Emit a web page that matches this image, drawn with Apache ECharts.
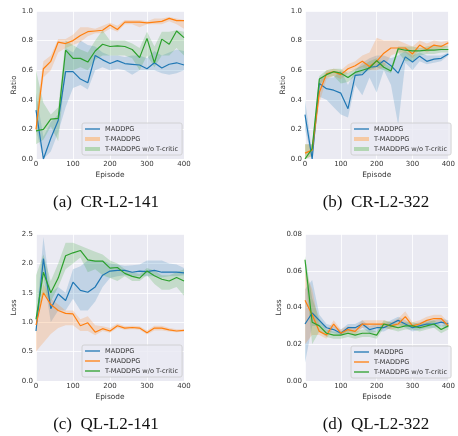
<!DOCTYPE html>
<html>
<head>
<meta charset="utf-8">
<script src="https://cdn.jsdelivr.net/npm/echarts@6/dist/echarts.min.js"></script>
<style>
    body { margin: 0; background: #fff; }
    #main { width: 458px; height: 436px; }
</style>
</head>
<body>
<div id="main"></div>
<script>
// x 轴
var episodes = [0, 20, 40, 60, 80, 100, 120, 140, 160, 180, 200, 220, 240, 260, 280, 300, 320, 340, 360, 380, 400];
var names = ['MADDPG', 'T-MADDPG', 'T-MADDPG w/o T-critic'];

// (a) CR-L2-141
var aMad = [0.33, 0.00, 0.14, 0.26, 0.59, 0.59, 0.54, 0.515, 0.70, 0.67, 0.645, 0.665, 0.645, 0.64, 0.635, 0.61, 0.65, 0.615, 0.64, 0.65, 0.635];
var aMadLo = [0.20, 0.00, 0.05, 0.18, 0.35, 0.48, 0.50, 0.47, 0.60, 0.62, 0.60, 0.61, 0.60, 0.57, 0.60, 0.60, 0.60, 0.58, 0.57, 0.58, 0.60];
var aMadHi = [0.45, 0.15, 0.25, 0.30, 0.75, 0.72, 0.80, 0.77, 0.76, 0.72, 0.70, 0.70, 0.69, 0.70, 0.70, 0.68, 0.73, 0.70, 0.72, 0.74, 0.73];
var aT = [0.20, 0.61, 0.66, 0.79, 0.78, 0.80, 0.835, 0.86, 0.865, 0.87, 0.905, 0.875, 0.925, 0.925, 0.925, 0.92, 0.925, 0.93, 0.95, 0.935, 0.935];
var aTLo = [0.15, 0.55, 0.60, 0.72, 0.75, 0.77, 0.79, 0.83, 0.85, 0.85, 0.88, 0.86, 0.91, 0.91, 0.89, 0.91, 0.91, 0.91, 0.93, 0.91, 0.88];
var aTHi = [0.30, 0.66, 0.70, 0.81, 0.81, 0.84, 0.89, 0.89, 0.88, 0.90, 0.92, 0.90, 0.94, 0.94, 0.94, 0.93, 0.95, 0.95, 0.96, 0.95, 0.94];
var aG = [0.19, 0.20, 0.27, 0.275, 0.735, 0.68, 0.68, 0.655, 0.73, 0.775, 0.76, 0.765, 0.76, 0.74, 0.685, 0.815, 0.65, 0.81, 0.775, 0.865, 0.82];
var aGLo = [0.10, 0.13, 0.22, 0.12, 0.60, 0.60, 0.62, 0.60, 0.67, 0.70, 0.70, 0.70, 0.70, 0.68, 0.60, 0.70, 0.62, 0.70, 0.70, 0.75, 0.70];
var aGHi = [0.60, 0.38, 0.30, 0.35, 0.80, 0.77, 0.74, 0.72, 0.80, 0.87, 0.80, 0.80, 0.80, 0.78, 0.75, 0.86, 0.76, 0.86, 0.86, 0.87, 0.86];

// (b) CR-L2-322
var bMad = [0.30, 0.00, 0.51, 0.475, 0.465, 0.445, 0.34, 0.565, 0.57, 0.62, 0.625, 0.665, 0.63, 0.58, 0.69, 0.655, 0.695, 0.66, 0.675, 0.68, 0.71];
var bMadLo = [0.20, 0.00, 0.42, 0.40, 0.35, 0.30, 0.28, 0.50, 0.43, 0.55, 0.45, 0.60, 0.50, 0.23, 0.65, 0.60, 0.66, 0.64, 0.65, 0.66, 0.70];
var bMadHi = [0.40, 0.05, 0.55, 0.55, 0.55, 0.60, 0.50, 0.60, 0.65, 0.68, 0.70, 0.70, 0.68, 0.70, 0.73, 0.70, 0.72, 0.70, 0.70, 0.70, 0.72];
var bT = [0.04, 0.06, 0.45, 0.575, 0.59, 0.57, 0.61, 0.63, 0.66, 0.625, 0.66, 0.715, 0.75, 0.75, 0.75, 0.71, 0.77, 0.74, 0.77, 0.76, 0.785];
var bTLo = [0.00, 0.02, 0.38, 0.54, 0.56, 0.54, 0.58, 0.60, 0.62, 0.60, 0.60, 0.62, 0.70, 0.72, 0.72, 0.68, 0.74, 0.72, 0.74, 0.74, 0.76];
var bTHi = [0.10, 0.10, 0.52, 0.60, 0.61, 0.60, 0.64, 0.66, 0.70, 0.72, 0.82, 0.80, 0.80, 0.80, 0.78, 0.76, 0.80, 0.78, 0.80, 0.79, 0.80];
var bG = [0.00, 0.07, 0.54, 0.57, 0.59, 0.58, 0.55, 0.585, 0.60, 0.615, 0.665, 0.62, 0.595, 0.745, 0.735, 0.73, 0.73, 0.735, 0.735, 0.74, 0.74];
var bGLo = [0.00, 0.02, 0.50, 0.55, 0.56, 0.51, 0.52, 0.56, 0.58, 0.60, 0.62, 0.60, 0.58, 0.72, 0.66, 0.66, 0.70, 0.71, 0.71, 0.72, 0.72];
var bGHi = [0.10, 0.10, 0.56, 0.60, 0.61, 0.61, 0.58, 0.61, 0.63, 0.66, 0.68, 0.65, 0.62, 0.76, 0.76, 0.76, 0.75, 0.76, 0.77, 0.77, 0.76];

// (c) QL-L2-141
var cMad = [0.85, 2.08, 1.23, 1.48, 1.37, 1.68, 1.54, 1.51, 1.60, 1.80, 1.87, 1.88, 1.88, 1.85, 1.87, 1.86, 1.88, 1.85, 1.85, 1.85, 1.84];
var cMadLo = [0.80, 1.80, 1.00, 1.20, 1.20, 1.40, 1.20, 1.20, 1.35, 1.60, 1.75, 1.78, 1.80, 1.78, 1.78, 1.78, 1.78, 1.76, 1.78, 1.78, 1.80];
var cMadHi = [1.00, 2.45, 1.50, 1.60, 1.50, 1.90, 1.95, 2.05, 2.05, 2.05, 2.00, 1.98, 1.96, 1.97, 1.98, 2.05, 2.05, 2.05, 2.00, 1.98, 1.92];
var cT = [0.95, 1.50, 1.30, 1.20, 1.15, 1.14, 0.94, 0.99, 0.83, 0.89, 0.85, 0.94, 0.90, 0.91, 0.90, 0.82, 0.90, 0.90, 0.87, 0.85, 0.86];
var cTLo = [0.50, 0.65, 0.80, 0.90, 0.95, 0.95, 0.85, 0.85, 0.78, 0.85, 0.82, 0.90, 0.87, 0.88, 0.87, 0.79, 0.86, 0.86, 0.84, 0.83, 0.84];
var cTHi = [1.00, 1.65, 1.40, 1.30, 1.20, 1.20, 1.05, 1.10, 0.95, 0.93, 0.90, 0.98, 0.93, 0.94, 0.93, 0.86, 0.94, 0.94, 0.90, 0.88, 0.88];
var cG = [1.05, 1.85, 1.50, 1.75, 2.13, 2.18, 2.22, 2.06, 2.04, 2.04, 1.92, 1.93, 1.83, 1.78, 1.75, 1.87, 1.79, 1.73, 1.70, 1.76, 1.70];
var cGLo = [1.00, 1.50, 1.35, 1.60, 1.90, 2.00, 2.10, 1.85, 1.90, 1.80, 1.75, 1.70, 1.78, 1.70, 1.70, 1.80, 1.65, 1.55, 1.55, 1.60, 1.45];
var cGHi = [1.80, 2.15, 1.70, 2.00, 2.35, 2.35, 2.30, 2.25, 2.20, 2.15, 2.05, 2.00, 1.90, 1.85, 1.82, 1.92, 1.88, 1.80, 1.80, 1.85, 1.90];

// (d) QL-L2-322
var dMad = [0.031, 0.037, 0.033, 0.029, 0.028, 0.026, 0.029, 0.029, 0.031, 0.028, 0.029, 0.029, 0.031, 0.033, 0.031, 0.029, 0.030, 0.031, 0.031, 0.032, 0.031];
var dMadLo = [0.010, 0.030, 0.030, 0.027, 0.026, 0.025, 0.027, 0.027, 0.029, 0.026, 0.027, 0.027, 0.029, 0.031, 0.029, 0.027, 0.028, 0.029, 0.029, 0.030, 0.029];
var dMadHi = [0.050, 0.055, 0.036, 0.031, 0.030, 0.028, 0.031, 0.031, 0.033, 0.030, 0.031, 0.031, 0.033, 0.035, 0.033, 0.031, 0.032, 0.033, 0.033, 0.034, 0.033];
var dT = [0.044, 0.036, 0.027, 0.025, 0.031, 0.026, 0.028, 0.027, 0.031, 0.031, 0.031, 0.031, 0.030, 0.031, 0.035, 0.030, 0.031, 0.033, 0.034, 0.034, 0.030];
var dTLo = [0.020, 0.025, 0.025, 0.023, 0.029, 0.025, 0.026, 0.025, 0.029, 0.029, 0.029, 0.029, 0.028, 0.029, 0.031, 0.029, 0.029, 0.031, 0.032, 0.032, 0.029];
var dTHi = [0.060, 0.050, 0.030, 0.027, 0.033, 0.028, 0.030, 0.029, 0.033, 0.033, 0.033, 0.033, 0.032, 0.034, 0.038, 0.032, 0.033, 0.035, 0.036, 0.036, 0.032];
var dG = [0.066, 0.032, 0.030, 0.026, 0.025, 0.025, 0.026, 0.025, 0.026, 0.026, 0.025, 0.031, 0.030, 0.029, 0.030, 0.030, 0.029, 0.030, 0.031, 0.028, 0.030];
var dGLo = [0.060, 0.020, 0.027, 0.024, 0.023, 0.023, 0.024, 0.023, 0.024, 0.024, 0.023, 0.029, 0.028, 0.027, 0.028, 0.028, 0.027, 0.028, 0.029, 0.026, 0.028];
var dGHi = [0.068, 0.045, 0.034, 0.028, 0.027, 0.027, 0.028, 0.027, 0.028, 0.028, 0.027, 0.033, 0.032, 0.031, 0.032, 0.032, 0.031, 0.032, 0.033, 0.030, 0.032];

var colors = ['#1f77b4', '#ff7f0e', '#2ca02c'];
var paleColors = ['#b9cbe0', '#f5c9a3', '#b3d6b3'];
var font = 'DejaVu Sans';
var textColor = '#333';

var panels = [
    {grid: {left: 36, top: 11, width: 148, height: 148}, yName: 'Ratio', yMax: 1, yStep: 0.2, digits: 1, nameGap: 17,
        legend: {left: 82, top: 123}, thick: true, caption: '(a)  CR-L2-141', cx: 106, cy: 203,
        mean: [aMad, aT, aG], lo: [aMadLo, aTLo, aGLo], hi: [aMadHi, aTHi, aGHi]},
    {grid: {left: 305, top: 11, width: 147, height: 148}, yName: 'Ratio', yMax: 1, yStep: 0.2, digits: 1, nameGap: 17,
        legend: {left: 351, top: 123}, thick: true, caption: '(b)  CR-L2-322', cx: 376, cy: 203,
        mean: [bMad, bT, bG], lo: [bMadLo, bTLo, bGLo], hi: [bMadHi, bTHi, bGHi]},
    {grid: {left: 36, top: 234, width: 148, height: 147}, yName: 'Loss', yMax: 2.5, yStep: 0.5, digits: 1, nameGap: 17,
        legend: {left: 82, top: 345}, thick: false, caption: '(c)  QL-L2-141', cx: 106, cy: 425,
        mean: [cMad, cT, cG], lo: [cMadLo, cTLo, cGLo], hi: [cMadHi, cTHi, cGHi]},
    {grid: {left: 305, top: 234, width: 147, height: 147}, yName: 'Loss', yMax: 0.08, yStep: 0.02, digits: 2, nameGap: 21,
        legend: {left: 351, top: 346}, thick: false, caption: '(d)  QL-L2-322', cx: 376, cy: 425,
        mean: [dMad, dT, dG], lo: [dMadLo, dTLo, dGLo], hi: [dMadHi, dTHi, dGHi]}
];

var thinIcon = 'path://M0,0H15V1.3H0Z';
var thickIcon = 'path://M0,0H15V4H0Z';

var grids = [], xAxes = [], yAxes = [], series = [], legends = [], captions = [];

panels.forEach(function (p, i) {
    grids.push({
        left: p.grid.left, top: p.grid.top, width: p.grid.width, height: p.grid.height,
        show: true, backgroundColor: '#EAEAF2', borderWidth: 0
    });
    xAxes.push({
        type: 'category', gridIndex: i, data: episodes, boundaryGap: false,
        name: 'Episode', nameLocation: 'middle', nameGap: 13,
        nameTextStyle: {fontFamily: font, fontSize: 7.4, color: textColor},
        axisLine: {show: false}, axisTick: {show: false},
        axisLabel: {interval: 4, margin: 2, fontFamily: font, fontSize: 7, color: textColor},
        splitLine: {show: true, interval: 4, lineStyle: {color: '#fff', width: 0.8}}
    });
    yAxes.push({
        type: 'value', gridIndex: i, min: 0, max: p.yMax, interval: p.yStep,
        name: p.yName, nameLocation: 'middle', nameGap: p.nameGap,
        nameTextStyle: {fontFamily: font, fontSize: 7.4, color: textColor},
        axisLine: {show: false}, axisTick: {show: false},
        axisLabel: {
            margin: 3, fontFamily: font, fontSize: 7, color: textColor,
            formatter: function (v) { return v.toFixed(p.digits); }
        },
        splitLine: {lineStyle: {color: '#fff', width: 0.8}}
    });

    // 置信区间 + 均值线
    for (var k = 0; k < 3; k++) {
        var lo = p.lo[k], hi = p.hi[k];
        var diff = hi.map(function (h, j) { return +(h - lo[j]).toFixed(4); });
        var stackId = 'band' + i + '-' + k;
        series.push({
            name: 'band', type: 'line', xAxisIndex: i, yAxisIndex: i, stack: stackId,
            data: lo, symbol: 'none', silent: true, lineStyle: {opacity: 0}
        });
        series.push({
            name: 'band', type: 'line', xAxisIndex: i, yAxisIndex: i, stack: stackId,
            data: diff, symbol: 'none', silent: true, lineStyle: {opacity: 0},
            areaStyle: {color: colors[k], opacity: 0.2}
        });
        series.push({
            name: names[k], type: 'line', xAxisIndex: i, yAxisIndex: i,
            data: p.mean[k], symbol: 'none', color: colors[k],
            lineStyle: {color: colors[k], width: 1.2}
        });
    }

    legends.push({
        left: p.legend.left, top: p.legend.top, orient: 'vertical',
        itemWidth: 15, itemHeight: 4, itemGap: 2,
        padding: [2, 4, 2, 3],
        backgroundColor: 'rgba(234,234,242,0.8)', borderColor: '#cccccc', borderWidth: 0.8, borderRadius: 2,
        textStyle: {fontFamily: font, fontSize: 6.6, color: textColor, lineHeight: 8},
        selectedMode: false,
        data: names.map(function (n, k) {
            var thick = p.thick && k > 0;
            return {
                name: n,
                icon: thick ? thickIcon : thinIcon,
                itemStyle: {color: thick ? paleColors[k] : colors[k]}
            };
        })
    });

    captions.push({
        type: 'text', x: p.cx, y: p.cy,
        style: {
            text: p.caption, align: 'center', verticalAlign: 'middle',
            fontFamily: 'Liberation Serif', fontSize: 17, fill: '#111'
        }
    });
});

var myChart = echarts.init(document.getElementById('main'));
myChart.setOption({
    animation: false,
    grid: grids,
    xAxis: xAxes,
    yAxis: yAxes,
    legend: legends,
    series: series,
    graphic: captions
});
</script>
</body>
</html>
